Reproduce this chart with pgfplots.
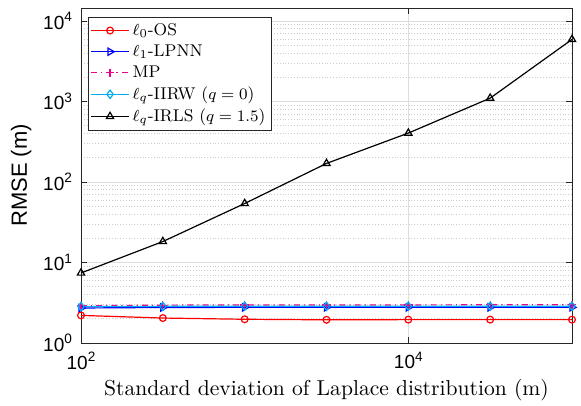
\documentclass[border=0pt]{standalone}
\usepackage{pgfplots}
\pgfplotsset{compat=1.18}
\usetikzlibrary{calc}
\usepackage{fontspec}
\newfontfamily\arialfont{Liberation Sans}
\definecolor{axgray}{rgb}{0.15,0.15,0.15}
\definecolor{gridgray}{rgb}{0.87,0.87,0.87}
\definecolor{mgridgray}{rgb}{0.80,0.80,0.80}
\newcommand{\tl}[1]{{\arialfont\fontsize{9.5}{10}\selectfont 10\raisebox{0.75ex}{\fontsize{6.8}{7}\selectfont #1}}}
\begin{document}
\begin{tikzpicture}
\begin{loglogaxis}[
  scale only axis,
  width=245.5pt, height=167.5pt,
  xmin=100, xmax=100000,
  ymin=1, ymax=14500,
  xtick={100,10000},
  xticklabels={\tl{2},\tl{4}},
  ytick={1,10,100,1000,10000},
  yticklabels={\tl{0},\tl{1},\tl{2},\tl{3},\tl{4}},
  xminorticks=false,
  yminorgrids=true,
  xmajorgrids=true, ymajorgrids=true,
  major grid style={gridgray, line width=0.4pt},
  minor grid style={mgridgray, densely dotted, line width=0.3pt},
  minor tick length=0pt,
  major tick length=3pt,
  tick align=inside,
  tick pos=both,
  axis line style={axgray, line width=0.4pt},
  tick style={axgray, line width=0.4pt},
  xticklabel style={yshift=-1pt},
  yticklabel style={xshift=-1pt},
  xlabel={Standard deviation of Laplace distribution (m)},
  ylabel={\arialfont\fontsize{11}{12}\selectfont RMSE (m)},
  xlabel style={font=\fontsize{10.8}{12}\selectfont, yshift=2pt},
  ylabel style={yshift=-1pt},
  clip=false,
  legend cell align=left,
  legend style={at={(0.014,0.973)}, anchor=north west, draw=axgray, line width=0.4pt,
    font=\fontsize{8.5}{10}\selectfont, inner sep=1.2pt, row sep=0pt,
    nodes={inner sep=1.6pt}},
  legend image code/.code={\draw[mark repeat=2,mark phase=2] plot coordinates {(0cm,0cm)(0.33cm,0cm)(0.66cm,0cm)};},
  every axis plot/.append style={line width=0.6pt},
]
\addplot[red, mark=o, mark size=1.7pt, mark options={solid}] coordinates {
(100,2.2) (316.23,2.04) (1000,1.97) (3162.3,1.94) (10000,1.95) (31623,1.95) (100000,1.95)};
\addlegendentry{$\ell_0$-OS}
\addplot[blue, mark=triangle, mark size=2.1pt, mark options={solid, rotate=-90}] coordinates {
(100,2.72) (316.23,2.76) (1000,2.77) (3162.3,2.77) (10000,2.77) (31623,2.77) (100000,2.77)};
\addlegendentry{$\ell_1$-LPNN}
\addplot[magenta, dash dot, mark=+, mark size=2.1pt, mark options={solid}] coordinates {
(100,2.9) (316.23,2.95) (1000,2.97) (3162.3,2.97) (10000,2.97) (31623,2.98) (100000,2.98)};
\addlegendentry{MP}
\addplot[cyan, mark=diamond, mark size=2.1pt, mark options={solid}] coordinates {
(100,2.83) (316.23,2.85) (1000,2.86) (3162.3,2.86) (10000,2.86) (31623,2.86) (100000,2.86)};
\addlegendentry{$\ell_q$-IIRW ($q=0$)}
\addplot[black, mark=triangle, mark size=2.1pt, mark options={solid}] coordinates {
(100,7.4) (316.23,18.2) (1000,54) (3162.3,170) (10000,405) (31623,1100) (100000,5900)};
\addlegendentry{$\ell_q$-IRLS ($q=1.5$)}
\end{loglogaxis}
\pgfresetboundingbox
\useasboundingbox ($(current axis.south west)+(-40.5pt,-31.5pt)$) rectangle ($(current axis.north east)+(4.5pt,4pt)$);
\end{tikzpicture}
\end{document}
